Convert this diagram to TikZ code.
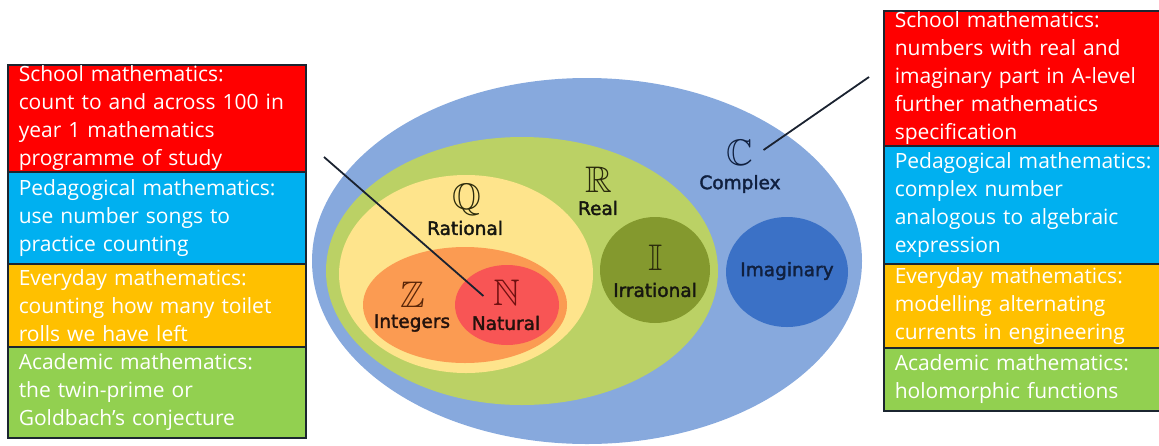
\documentclass[tikz,border=0pt]{standalone}
\usepackage{fontspec}
\usepackage{amssymb}
\newfontfamily\boxfont{Open Sans}
\newfontfamily\lblfont[FakeBold=2]{DejaVu Sans}
\definecolor{boxline}{HTML}{1B2530}
\definecolor{bred}{HTML}{FF0000}
\definecolor{bblue}{HTML}{00B0F0}
\definecolor{borange}{HTML}{FFC000}
\definecolor{bgreen}{HTML}{92D050}
\definecolor{cOuter}{HTML}{87A9DD}
\definecolor{cReal}{HTML}{BBD165}
\definecolor{cRat}{HTML}{FEE48C}
\definecolor{cInt}{HTML}{FB9B52}
\definecolor{cNat}{HTML}{F85555}
\definecolor{cIrr}{HTML}{84992E}
\definecolor{cIm}{HTML}{3B71C6}
\definecolor{tDark}{HTML}{161610}
\definecolor{tNavy}{HTML}{10203F}
\definecolor{tBrown}{HTML}{24120C}
\definecolor{sOlive}{HTML}{2A2A0C}
\definecolor{sBrown}{HTML}{5A2608}
\definecolor{sRed}{HTML}{701010}
\definecolor{connector}{HTML}{1A2230}
\tikzset{
  infobox/.style={draw=boxline, line width=1.5pt, text=white, anchor=north west,
    font=\boxfont\fontsize{21}{28}\selectfont, align=left,
    inner xsep=11pt, inner ysep=0pt, minimum width=#1, text width=#1-22pt},
  lbl/.style={font=\lblfont\fontsize{18.5}{20}\selectfont, inner sep=0pt},
  sym/.style={font=\fontsize{37}{37}\selectfont, inner sep=0pt},
  conn/.style={draw=connector, line width=1.8pt}
}
\begin{document}
\begin{tikzpicture}[x=1pt,y=-1pt]
\useasboundingbox (0,0) rectangle (1159,445);
% Venn ellipses
\fill[cOuter] (587,261) ellipse [x radius=275, y radius=183];
\fill[cReal] (522,271) ellipse [x radius=196, y radius=134];
\fill[cRat] (466,274) ellipse [x radius=127, y radius=99];
\fill[cInt] (465,305) ellipse [x radius=102, y radius=58];
\fill[cNat] (507,305) ellipse [x radius=52, y radius=40];
\fill[cIrr] (655,270) ellipse [x radius=55, y radius=53];
\fill[cIm] (787,272) ellipse [x radius=61, y radius=55];
% labels
\node[sym, text=sOlive] (Qsym) at (467,200) {$\mathbb{Q}$};
\node[lbl, text=tDark] (Qlbl) at (465,228) {Rational};
\node[sym, text=sOlive] (Rsym) at (599,180) {$\mathbb{R}$};
\node[lbl, text=tDark] (Rlbl) at (598,208) {Real};
\node[sym, text=tNavy] (Csym) at (740,153) {$\mathbb{C}$};
\node[lbl, text=tNavy] (Clbl) at (740,184) {Complex};
\node[sym, text=sOlive] (Isym) at (656,258) {$\mathbb{I}$};
\node[lbl, text=tDark] (Ilbl) at (655,290) {Irrational};
\node[sym, text=sBrown] (Zsym) at (413,295) {$\mathbb{Z}$};
\node[lbl, text=tBrown] (Zlbl) at (412,323) {Integers};
\node[sym, text=sRed] (Nsym) at (507,293) {$\mathbb{N}$};
\node[lbl, text=tBrown] (Nlbl) at (506,323) {Natural};
\node[lbl, text=tNavy] (Imlbl) at (787,271) {Imaginary};
% left boxes
\node[infobox=298pt, fill=bred, minimum height=107pt] (L1) at (7,64)
  {School mathematics:\\count to and across 100 in\\year 1 mathematics\\programme of study};
\node[infobox=298pt, fill=bblue, minimum height=92pt] (L2) at (7,171)
  {Pedagogical mathematics:\\use number songs to\\practice counting};
\node[infobox=298pt, fill=borange, minimum height=83pt] (L3) at (7,263)
  {Everyday mathematics:\\counting how many toilet\\rolls we have left};
\node[infobox=298pt, fill=bgreen, minimum height=91pt] (L4) at (7,346)
  {Academic mathematics:\\the twin-prime or\\Goldbach’s conjecture};
% right boxes
\node[infobox=300pt, fill=bred, minimum height=135pt] (R1) at (883,10)
  {School mathematics:\\numbers with real and\\imaginary part in A-level\\further mathematics\\specification};
\node[infobox=300pt, fill=bblue, minimum height=118pt] (R2) at (883,145)
  {Pedagogical mathematics:\\complex number\\analogous to algebraic\\expression};
\node[infobox=300pt, fill=borange, minimum height=84pt] (R3) at (883,263)
  {Everyday mathematics:\\modelling alternating\\currents in engineering};
\node[infobox=300pt, fill=bgreen, minimum height=63pt] (R4) at (883,347)
  {Academic mathematics:\\holomorphic functions};
% connectors
\coordinate (lstart) at (324,157);
\coordinate (rstart) at (869,77);
\draw[conn] (lstart) -- ([xshift=-10pt,yshift=-3pt]Nsym.west);
\draw[conn] (rstart) -- ([xshift=10pt,yshift=3pt]Csym.east);
\end{tikzpicture}
\end{document}
